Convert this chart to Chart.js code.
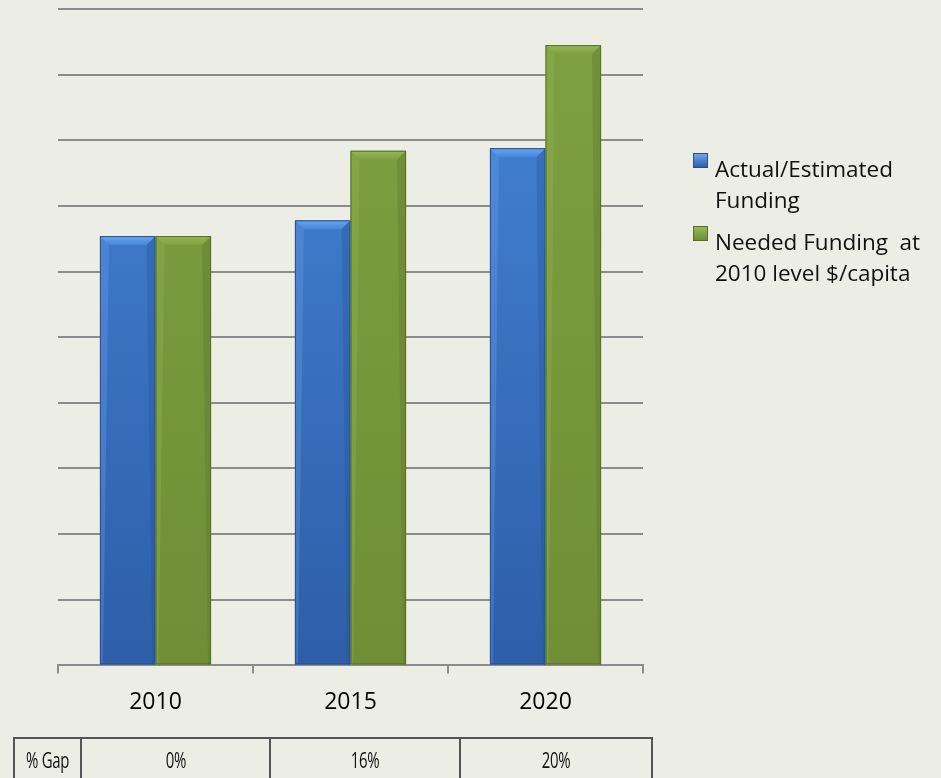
<!DOCTYPE html>
<html>
<head>
<meta charset="utf-8">
<script src="https://cdn.jsdelivr.net/npm/chart.js@4"></script>
<style>
  body { margin: 0; background: #ECEEE6; width: 941px; height: 778px; overflow: hidden; position: relative; font-family: 'Open Sans', sans-serif; }
  #wrap { position: absolute; left: 0; top: 0; width: 941px; height: 778px; }
  .legend { position: absolute; left: 693px; top: 153px; font-size: 22.5px; line-height: 31px; color: #111; }
  .legend .item { position: relative; padding-left: 22px; margin-bottom: 11px; white-space: nowrap; }
  .legend .box { position: absolute; left: 0; top: 0px; width: 15px; height: 15px; box-sizing: border-box; }
  table.gap { position: absolute; left: 13px; top: 737px; table-layout: fixed; border-collapse: collapse; font-family: 'Open Sans', sans-serif; font-size: 22px; color: #111; }
  table.gap td { border: 2px solid #555; height: 40px; text-align: center; padding: 0; overflow: visible; }
  table.gap td span { display: inline-block; transform: scaleX(0.68); letter-spacing: -0.5px; }
</style>
</head>
<body>
<div id="wrap"><canvas id="fundChart" width="941" height="778"></canvas></div>

<div class="legend" id="legend"></div>
<table class="gap" id="gapTable"></table>

<script>
// Données du graphique
const years = ['2010', '2015', '2020'];
const actualFunding = [6.54, 6.78, 7.88];
const neededFunding = [6.54, 7.84, 9.45];
const gapLabels = ['0%', '16%', '20%'];
const seriesNames = [['Actual/Estimated', 'Funding'], ['Needed Funding\u00a0 at', '2010 level $/capita']];

const blue = { top: '#4685D8', bottom: '#2D5EA8', light: '#6CA6EE', dark: '#24508F' };
const green = { top: '#7FA042', bottom: '#6F8E36', light: '#98B857', dark: '#566F28' };

// Dégradé vertical sur la zone du graphique
function gradientFor(c) {
  return (ctx) => {
    const area = ctx.chart.chartArea;
    if (!area) return c.top;
    const g = ctx.chart.ctx.createLinearGradient(0, area.top, 0, area.bottom);
    g.addColorStop(0, c.top);
    g.addColorStop(1, c.bottom);
    return g;
  };
}

// Effet biseauté sur chaque barre
const bevelPlugin = {
  id: 'bevel',
  afterDatasetsDraw(chart) {
    const ctx = chart.ctx;
    const palettes = [blue, green];
    chart.data.datasets.forEach((ds, i) => {
      const meta = chart.getDatasetMeta(i);
      const c = palettes[i];
      meta.data.forEach(bar => {
        const left = bar.x - bar.width / 2;
        const right = bar.x + bar.width / 2;
        const top = bar.y;
        const base = bar.base;
        const b = 9;
        ctx.save();
        // biseau du haut
        const tg = ctx.createLinearGradient(0, top, 0, top + b);
        tg.addColorStop(0, c.light);
        tg.addColorStop(1, c.top);
        ctx.fillStyle = tg;
        ctx.beginPath();
        ctx.moveTo(left, top);
        ctx.lineTo(right, top);
        ctx.lineTo(right - b, top + b);
        ctx.lineTo(left + b, top + b);
        ctx.closePath();
        ctx.fill();
        // côtés
        ctx.globalAlpha = 0.3;
        ctx.fillStyle = c.light;
        ctx.beginPath();
        ctx.moveTo(left, top);
        ctx.lineTo(left + b, top + b);
        ctx.lineTo(left + 3, base);
        ctx.lineTo(left, base);
        ctx.closePath();
        ctx.fill();
        ctx.fillStyle = c.dark;
        ctx.beginPath();
        ctx.moveTo(right, top);
        ctx.lineTo(right - b, top + b);
        ctx.lineTo(right - 3, base);
        ctx.lineTo(right, base);
        ctx.closePath();
        ctx.fill();
        ctx.globalAlpha = 1;
        ctx.strokeStyle = c.dark;
        ctx.lineWidth = 1;
        ctx.strokeRect(left + 0.5, top + 0.5, bar.width - 1, base - top - 1);
        ctx.restore();
      });
    });
  }
};

new Chart(document.getElementById('fundChart'), {
  type: 'bar',
  data: {
    labels: years,
    datasets: [
      { label: seriesNames[0].join(' '), data: actualFunding, backgroundColor: gradientFor(blue), borderWidth: 0 },
      { label: seriesNames[1].join(' '), data: neededFunding, backgroundColor: gradientFor(green), borderWidth: 0 }
    ]
  },
  options: {
    responsive: false,
    animation: false,
    layout: { padding: { left: 58, right: 298, top: 9, bottom: 47 } },
    categoryPercentage: 0.57,
    barPercentage: 1,
    scales: {
      y: {
        min: 0,
        max: 10,
        ticks: { display: false, stepSize: 1 },
        border: { display: false },
        grid: { color: '#8C8C8C', lineWidth: 2, drawTicks: false }
      },
      x: {
        border: { display: true, color: '#8C8C8C', width: 2 },
        grid: { drawOnChartArea: false, drawTicks: true, tickLength: 8, color: '#8C8C8C', lineWidth: 2, offset: true },
        ticks: { color: '#000', font: { family: 'Open Sans', size: 23 }, padding: 15 }
      }
    },
    plugins: {
      legend: { display: false },
      tooltip: { enabled: false }
    }
  },
  plugins: [bevelPlugin]
});

// Légende HTML (texte sur deux lignes)
const legendEl = document.getElementById('legend');
[blue, green].forEach((c, i) => {
  const item = document.createElement('div');
  item.className = 'item';
  item.innerHTML = `<span class="box" style="top:0;background:linear-gradient(${c.light}, ${c.bottom});border:1px solid ${c.dark}"></span>` + seriesNames[i].join('<br>');
  legendEl.appendChild(item);
});

// Tableau des écarts
const row = document.createElement('tr');
const widths = [65, 187, 188, 190];
row.innerHTML = ['% Gap'].concat(gapLabels).map((g, i) => `<td style="width:${widths[i]}px"><span>${g}</span></td>`).join('');
document.getElementById('gapTable').appendChild(row);
</script>
</body>
</html>
